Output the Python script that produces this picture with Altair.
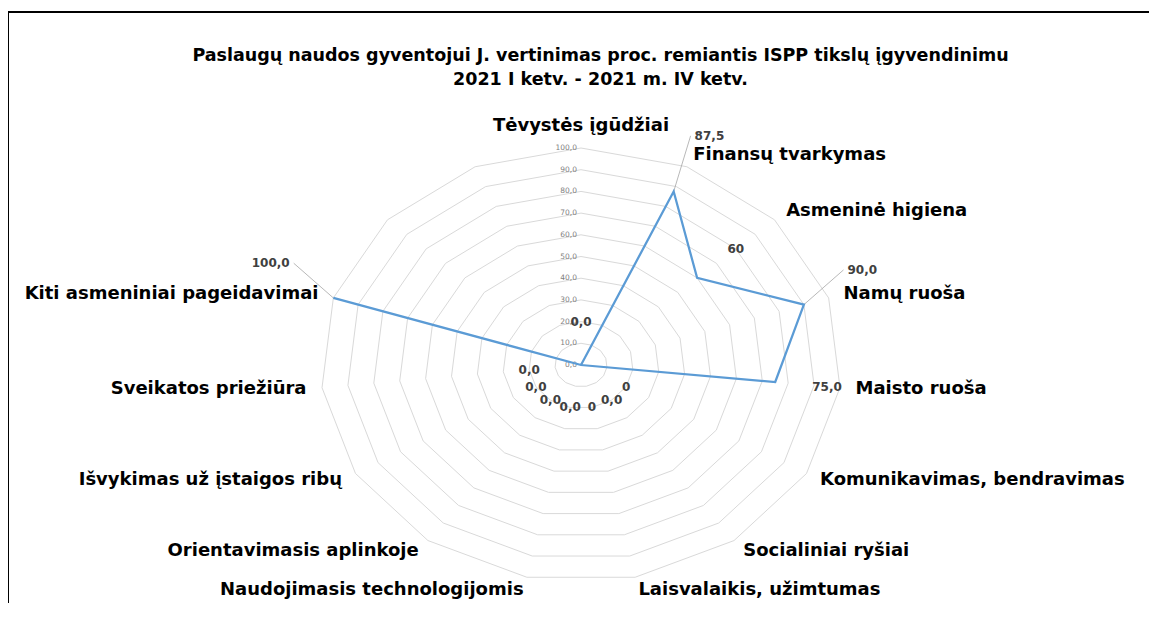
import altair as alt
import numpy as np
import pandas as pd

# ---------------- data ----------------
TITLE = [
    "Paslaugų naudos gyventojui J. vertinimas proc. remiantis ISPP tikslų įgyvendinimu",
    "2021 I ketv. - 2021 m.  IV ketv.",
]
CATEGORIES = [
    "Tėvystės įgūdžiai",
    "Finansų tvarkymas",
    "Asmeninė higiena",
    "Namų ruoša",
    "Maisto ruoša",
    "Komunikavimas, bendravimas",
    "Socialiniai ryšiai",
    "Laisvalaikis, užimtumas",
    "Naudojimasis technologijomis",
    "Orientavimasis aplinkoje",
    "Išvykimas už įstaigos ribų",
    "Sveikatos priežiūra",
    "Kiti asmeniniai pageidavimai",
    "",
    "",
]
VALUES = [0, 87.5, 60, 90, 75, 0, 0, 0, 0, 0, 0, 0, 100]
VALUE_LABELS = ["0,0", "87,5", "60", "90,0", "75,0", "0", "0,0", "0",
                "0,0", "0,0", "0,0", "0,0", "100,0"]
RING_LEVELS = [0, 10, 20, 30, 40, 50, 60, 70, 80, 90, 100]
RING_LABELS = ["0,0", "10,0", "20,0", "30,0", "40,0", "50,0", "60,0",
               "70,0", "80,0", "90,0", "100,0"]

# ---------------- layout ----------------
W, H = 1141, 591
CX, CY = 573, 353          # centre of the radar inside the plot area (px)
SX, SY = 2.604, 2.17       # px per value unit (horizontal / vertical)
FONT = "DejaVu Sans"

n = len(CATEGORIES)
step = 2 * np.pi / n

xs = alt.Scale(domain=[-CX / SX, (W - CX) / SX], nice=False, zero=False)
ys = alt.Scale(domain=[-(H - CY) / SY, CY / SY], nice=False, zero=False)


def X(f):
    return alt.X(f, type="quantitative", scale=xs, axis=None)


def Y(f):
    return alt.Y(f, type="quantitative", scale=ys, axis=None)


# grid rings
ring_rows = []
for lv in RING_LEVELS[1:]:
    for k in range(n + 1):
        a = (k % n) * step
        ring_rows.append({"level": lv, "k": k,
                          "x": np.sin(a) * lv, "y": np.cos(a) * lv})
rings = pd.DataFrame(ring_rows)

ring_lab = pd.DataFrame({"level": RING_LEVELS, "label": RING_LABELS})
ring_lab["x"] = 0.0
ring_lab["y"] = ring_lab["level"].astype(float)

# series
m = len(VALUES)
ser = pd.DataFrame({"idx": range(m), "value": VALUES, "label": VALUE_LABELS})
ang = ser["idx"] * step
ser["x"] = np.sin(ang) * ser["value"]
ser["y"] = np.cos(ang) * ser["value"]
ser["side"] = np.sign(np.round(np.sin(ang), 6))
lead = ser["value"] > 80
r_lab = np.where(lead, ser["value"] + 16, ser["value"] + 20)
ser["lx"] = np.sin(ang) * r_lab
ser["ly"] = np.cos(ang) * r_lab + np.where(lead, 24 / SY, 0)
ser["lead"] = lead

normal_lab = ser[~ser["lead"]]
lead_lab = ser[ser["lead"]]

# categories
cat = pd.DataFrame({"idx": range(n), "name": CATEGORIES})
cat = cat[cat["name"] != ""].copy()
ca = cat["idx"] * step
cat["x"] = np.sin(ca) * 106
cat["y"] = np.cos(ca) * 106
cat["s"] = np.round(np.sin(ca), 6)

CAT_SIZE = 18
VAL_SIZE = 12

# ---------------- layers ----------------
ring_layer = alt.Chart(rings).mark_line(color="#d9d9d9", strokeWidth=1).encode(
    x=X("x"), y=Y("y"), detail="level:N", order="k:Q")

ring_text = alt.Chart(ring_lab).mark_text(
    align="right", baseline="middle", dx=-4, fontSize=7.5, font=FONT,
    color="#7f7f7f").encode(x=X("x"), y=Y("y"), text="label:N")

leader = alt.Chart(lead_lab).mark_rule(color="#a6a6a6", strokeWidth=0.8).encode(
    x=X("x"), y=Y("y"), x2="lx:Q", y2="ly:Q")

line = alt.Chart(ser).mark_line(color="#5b9bd5", strokeWidth=2.25).encode(
    x=X("x"), y=Y("y"), order="idx:Q")

vlab = alt.Chart(normal_lab).mark_text(
    align="center", baseline="middle", fontSize=VAL_SIZE, font=FONT,
    fontWeight="bold", color="#404040").encode(x=X("lx"), y=Y("ly"), text="label:N")

lead_r = alt.Chart(lead_lab[lead_lab["side"] > 0]).mark_text(
    align="left", baseline="middle", dx=4, fontSize=VAL_SIZE, font=FONT,
    fontWeight="bold", color="#404040").encode(x=X("lx"), y=Y("ly"), text="label:N")
lead_l = alt.Chart(lead_lab[lead_lab["side"] < 0]).mark_text(
    align="right", baseline="middle", dx=-4, fontSize=VAL_SIZE, font=FONT,
    fontWeight="bold", color="#404040").encode(x=X("lx"), y=Y("ly"), text="label:N")

cat_top = alt.Chart(cat[cat["s"] == 0]).mark_text(
    align="center", baseline="bottom", fontSize=CAT_SIZE, font=FONT,
    fontWeight="bold", color="black").encode(x=X("x"), y=Y("y"), text="name:N")
cat_right = alt.Chart(cat[cat["s"] > 0]).mark_text(
    align="left", baseline="middle", fontSize=CAT_SIZE, font=FONT,
    fontWeight="bold", color="black").encode(x=X("x"), y=Y("y"), text="name:N")
cat_left = alt.Chart(cat[cat["s"] < 0]).mark_text(
    align="right", baseline="middle", fontSize=CAT_SIZE, font=FONT,
    fontWeight="bold", color="black").encode(x=X("x"), y=Y("y"), text="name:N")

frame_left = alt.Chart(ser).mark_rule(color="black", strokeWidth=2).encode(
    x=alt.value(0), y=alt.value(0), y2=alt.value(H))
frame_top = alt.Chart(ser).mark_rule(color="black", strokeWidth=2).encode(
    x=alt.value(0), x2=alt.value(W), y=alt.value(0))

chart = alt.layer(
    ring_layer, ring_text, leader, line, vlab, lead_r, lead_l,
    cat_top, cat_right, cat_left, frame_left, frame_top,
).properties(
    width=W, height=H,
    title=alt.TitleParams(TITLE, fontSize=17.5, font=FONT, fontWeight="bold",
                          anchor="middle", dx=22, offset=-77, lineHeight=24,
                          color="black"),
    padding={"left": 0, "right": 0, "top": 4, "bottom": 0},
    autosize=alt.AutoSizeParams(type="none"),
).configure_view(strokeWidth=0)

chart.save("out.html", embed_options={"renderer": "svg", "actions": False})
